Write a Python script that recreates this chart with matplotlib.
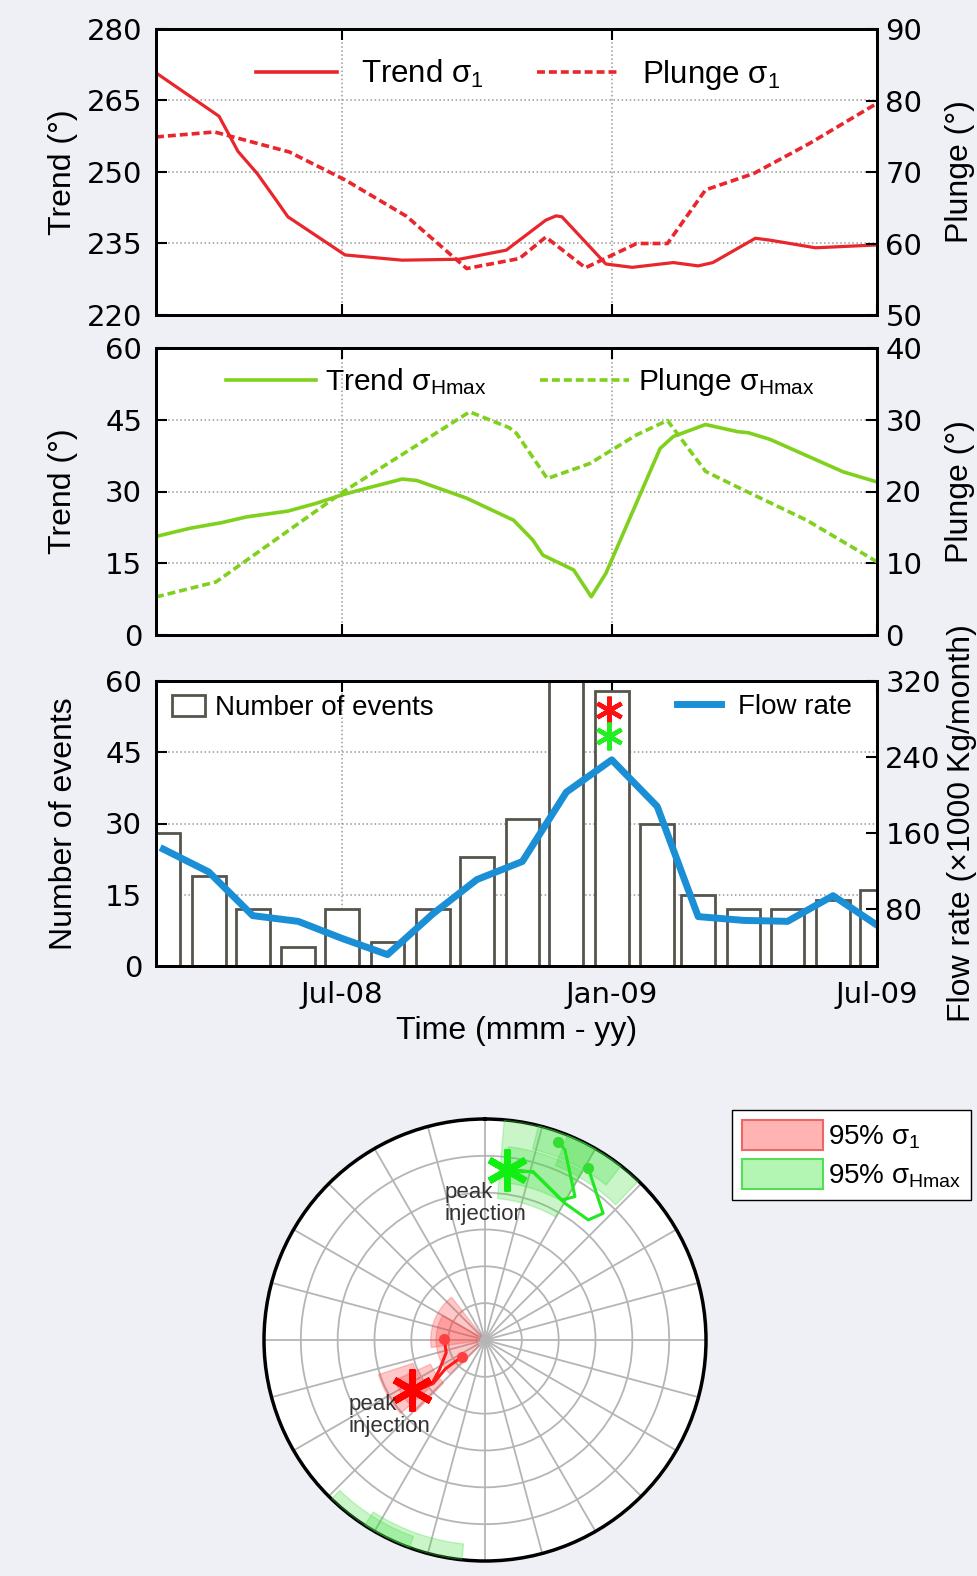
import numpy as np
import pandas as pd
import matplotlib
matplotlib.use('Agg')
import matplotlib.pyplot as plt
import matplotlib.dates as mdates
from matplotlib.lines import Line2D
from matplotlib.patches import Patch

plt.rcParams['font.family'] = ['Liberation Sans', 'DejaVu Sans']
plt.rcParams['mathtext.fontset'] = 'custom'
plt.rcParams['mathtext.rm'] = 'Liberation Sans'
plt.rcParams['mathtext.it'] = 'Liberation Sans:italic'
plt.rcParams['mathtext.default'] = 'regular'

# ---- data ----
s1_trend_dates = ['2008-02-25', '2008-04-08', '2008-04-21', '2008-05-04', '2008-05-17', '2008-05-25',
                  '2008-07-03', '2008-08-11', '2008-09-19', '2008-10-21', '2008-11-17', '2008-11-24',
                  '2008-11-28', '2008-12-28', '2009-01-15', '2009-02-12', '2009-03-01', '2009-03-11',
                  '2009-04-09', '2009-04-19', '2009-05-20', '2009-07-01']
s1_trend = [270.8, 261.7, 254.3, 249.7, 244.1, 240.6, 232.6, 231.5, 231.7, 233.6, 239.9, 240.8,
            240.6, 230.7, 230.0, 231.0, 230.3, 231.0, 236.1, 235.7, 234.1, 234.7]

s1_plunge_dates = ['2008-02-25', '2008-04-05', '2008-05-26', '2008-07-03', '2008-08-14', '2008-09-24',
                   '2008-10-30', '2008-11-17', '2008-12-14', '2009-01-18', '2009-02-08', '2009-03-06',
                   '2009-04-08', '2009-05-16', '2009-07-01']
s1_plunge = [74.9, 75.6, 72.8, 68.9, 63.8, 56.5, 57.9, 60.9, 56.6, 60.0, 60.0, 67.5, 69.8, 74.0, 79.6]

hmax_trend_dates = ['2008-02-25', '2008-03-19', '2008-04-10', '2008-04-27', '2008-05-25', '2008-06-13',
                    '2008-07-01', '2008-07-18', '2008-08-11', '2008-08-21', '2008-09-24', '2008-10-26',
                    '2008-11-08', '2008-11-15', '2008-12-06', '2008-12-18', '2008-12-28', '2009-02-03',
                    '2009-02-12', '2009-03-06', '2009-03-28', '2009-04-04', '2009-04-19', '2009-06-08',
                    '2009-07-01']
hmax_trend = [20.6, 22.3, 23.5, 24.7, 25.9, 27.5, 29.3, 30.7, 32.6, 32.3, 28.6, 24.0, 19.9, 16.7,
              13.6, 8.0, 12.9, 39.0, 41.5, 44.0, 42.5, 42.3, 40.9, 34.1, 32.0]

hmax_plunge_dates = ['2008-02-25', '2008-04-06', '2008-07-02', '2008-08-16', '2008-09-26', '2008-10-23',
                     '2008-10-28', '2008-11-18', '2008-12-17', '2009-01-18', '2009-02-08', '2009-03-06',
                     '2009-04-01', '2009-05-14', '2009-07-01']
hmax_plunge = [5.3, 7.4, 20.0, 25.8, 31.1, 28.9, 28.1, 21.8, 23.9, 27.9, 29.9, 22.8, 20.2, 16.0, 10.2]

months = ['2008-03-01', '2008-04-01', '2008-05-01', '2008-06-01', '2008-07-01', '2008-08-01',
          '2008-09-01', '2008-10-01', '2008-11-01', '2008-12-01', '2009-01-01', '2009-02-01',
          '2009-03-01', '2009-04-01', '2009-05-01', '2009-06-01', '2009-07-01']
n_events = [28, 19, 12, 4, 12, 5, 12, 23, 31, 60, 58, 30, 15, 12, 12, 14, 16]
flow_rate = [143, 119, 73, 67, 49, 32, 75, 111, 130, 203, 237, 188, 72, 68, 67, 94, 63]

peak_date = '2008-12-30'
peak_s1_mark = 54
peak_hmax_mark = 48.5

# stereonet paths (trend, plunge) and 95% regions (trend min/max, plunge min/max)
s1_net_trend = [272, 252, 237, 231, 234, 230, 234, 234]
s1_net_plunge = [75, 75, 70, 65, 57.4, 65, 72, 79.5]
s1_peak = (235.7, 57.3)
hmax_net_trend = [20.3, 22.8, 32.1, 28.7, 16.0, 7.3, 16.0, 30.3, 40.7, 43.0, 31.0]
hmax_net_plunge = [4.9, 7.4, 24.4, 28.6, 21.9, 23.5, 22.0, 29.1, 29.1, 22.7, 10.2]
hmax_peak = (7.3, 23.5)
s1_regions = [(262, 322, 70, 88), (226, 300, 72, 87), (229, 252, 48, 62), (224, 246, 53, 68)]
hmax_regions = [(5, 30, 0, 36), (7, 30, 13, 29), (22, 44, 0, 16), (14, 38, 0, 12),
                (186, 213, 0, 8), (200, 224, 0, 6)]

RED = '#e8262c'
GREEN = '#80d01e'
BLUE = '#1a8fd6'
BAR_EDGE = '#55554d'

W, H = 977, 1576


def px2fig(x0, y0, x1, y1):
    return [x0 / W, 1 - y1 / H, (x1 - x0) / W, (y1 - y0) / H]


xmin, xmax = pd.Timestamp('2008-02-25'), pd.Timestamp('2009-07-01')
xticks = pd.to_datetime(['2008-07-01', '2009-01-01', '2009-07-01'])


def style(ax, axr, lim_l, ticks_l, lim_r, ticks_r, show_x=False):
    ax.set_xlim(xmin, xmax)
    ax.set_xticks(xticks)
    ax.xaxis.set_major_formatter(mdates.DateFormatter('%b-%y'))
    ax.set_ylim(lim_l)
    ax.set_yticks(ticks_l)
    axr.set_ylim(lim_r)
    axr.set_yticks(ticks_r)
    ax.tick_params(direction='in', length=8, width=1.5, labelsize=21, top=True,
                   labelfontfamily='DejaVu Sans', pad=10, labelbottom=show_x)
    ax.tick_params(axis='x', pad=11)
    axr.tick_params(direction='in', length=8, width=1.5, labelsize=21,
                    labelfontfamily='DejaVu Sans', pad=6)
    for sp in list(ax.spines.values()) + list(axr.spines.values()):
        sp.set_linewidth(2)
    ax.grid(True, color='#999999', linestyle=':', linewidth=1.1)
    ax.set_axisbelow(True)
    ax.set_facecolor('white')


fig = plt.figure(figsize=(W / 100, H / 100), dpi=100, facecolor='#eef0f5')

# ---- panel 1: sigma 1 ----
ax1 = fig.add_axes(px2fig(156, 29, 877, 315))
ax1r = ax1.twinx()
ax1.plot(pd.to_datetime(s1_trend_dates), s1_trend, color=RED, lw=2.3)
ax1r.plot(pd.to_datetime(s1_plunge_dates), s1_plunge, color=RED, lw=2.6, ls=(0, (2.2, 1.1)))
style(ax1, ax1r, (220, 280), [220, 235, 250, 265, 280], (50, 90), [50, 60, 70, 80, 90])
ax1.set_ylabel('Trend (°)', fontsize=23)
ax1r.set_ylabel('Plunge (°)', fontsize=23)
ax1.yaxis.set_label_coords(-0.108, 0.5)
ax1r.yaxis.set_label_coords(1.094, 0.5)
h1 = [Line2D([], [], color=RED, lw=2.6), Line2D([], [], color=RED, lw=2.6, ls=(0, (2.2, 1.1)))]
ax1r.legend(h1, ['Trend σ$_1$', 'Plunge σ$_1$'], loc='center left', bbox_to_anchor=(0.1, 0.84),
            ncol=2, frameon=False, fontsize=22.5, handlelength=2.6, handletextpad=0.75,
            columnspacing=1.7)

# ---- panel 2: sigma Hmax ----
ax2 = fig.add_axes(px2fig(156, 348, 877, 635))
ax2r = ax2.twinx()
ax2.plot(pd.to_datetime(hmax_trend_dates), hmax_trend, color=GREEN, lw=2.6)
ax2r.plot(pd.to_datetime(hmax_plunge_dates), hmax_plunge, color=GREEN, lw=2.6, ls=(0, (2.2, 1.1)))
style(ax2, ax2r, (0, 60), [0, 15, 30, 45, 60], (0, 40), [0, 10, 20, 30, 40])
ax2.set_ylabel('Trend (°)', fontsize=23)
ax2r.set_ylabel('Plunge (°)', fontsize=23)
ax2.yaxis.set_label_coords(-0.108, 0.5)
ax2r.yaxis.set_label_coords(1.094, 0.5)
h2 = [Line2D([], [], color=GREEN, lw=2.6), Line2D([], [], color=GREEN, lw=2.6, ls=(0, (2.2, 1.1)))]
ax2r.legend(h2, ['Trend σ$_{Hmax}$', 'Plunge σ$_{Hmax}$'], loc='center left',
            bbox_to_anchor=(0.06, 0.88), ncol=2, frameon=False, fontsize=21.5, handlelength=3.0,
            handletextpad=0.3, columnspacing=1.8)

# ---- panel 3: events and flow rate ----
ax3 = fig.add_axes(px2fig(156, 681, 877, 966))
ax3r = ax3.twinx()
ax3.bar(pd.to_datetime(months), n_events, width=23, facecolor='white', edgecolor=BAR_EDGE,
        linewidth=2, zorder=2)
ax3.plot(pd.to_datetime([peak_date]), [peak_s1_mark], ls='none', marker=(6, 2, 0), ms=20,
         mew=3.2, color='#ff1010', zorder=4)
ax3.plot(pd.to_datetime([peak_date]), [peak_hmax_mark], ls='none', marker=(6, 2, 0), ms=20,
         mew=3.2, color='#22ee22', zorder=4)
ax3r.plot(pd.to_datetime(months), flow_rate, color=BLUE, lw=5)
style(ax3, ax3r, (0, 60), [0, 15, 30, 45, 60], (20, 320), [80, 160, 240, 320], show_x=True)
ax3.set_ylabel('Number of events', fontsize=23)
ax3r.set_ylabel('Flow rate (×1000 Kg/month)', fontsize=23)
ax3.yaxis.set_label_coords(-0.107, 0.5)
ax3r.yaxis.set_label_coords(1.097, 0.5)
ax3.set_xlabel('Time (mmm - yy)', fontsize=23)
ax3.xaxis.set_label_coords(0.5, -0.175)
leg_a = ax3r.legend([Patch(facecolor='white', edgecolor=BAR_EDGE, linewidth=2)],
                    ['Number of events'], loc='center left', bbox_to_anchor=(-0.013, 0.905),
                    frameon=False, fontsize=20, handlelength=1.2, handleheight=0.8,
                    handletextpad=0.35)
ax3r.add_artist(leg_a)
ax3r.legend([Line2D([], [], color=BLUE, lw=5)], ['Flow rate'], loc='center right',
            bbox_to_anchor=(1.0, 0.91), frameon=False, fontsize=20, handlelength=1.6,
            handletextpad=0.6)

# ---- stereonet (equal-area, lower hemisphere) ----
def proj(plunge):
    return np.sqrt(2) * np.sin(np.radians(90 - np.asarray(plunge, dtype=float)) / 2)


axp = fig.add_axes(px2fig(485 - 221, 1340 - 221, 485 + 221, 1340 + 221), projection='polar')
axp.set_theta_zero_location('N')
axp.set_theta_direction(-1)
axp.set_ylim(0, 1)
axp.set_rticks(np.arange(1, 6) / 6)
axp.set_yticklabels([])
axp.set_thetagrids(np.arange(0, 360, 15), labels=[])
axp.grid(color='#b5b5b5', linewidth=1.3)
axp.spines['polar'].set_linewidth(2.5)
axp.set_facecolor('white')


def sector(ax, t0, t1, p0, p1, color):
    th = np.radians(np.linspace(t0, t1, 40))
    theta = np.concatenate([th, th[::-1]])
    r = np.concatenate([np.full(th.size, proj(p0)), np.full(th.size, proj(p1))])
    ax.fill(theta, r, facecolor=color, alpha=0.28, edgecolor=color, linewidth=1, zorder=3)


for t0, t1, p0, p1 in s1_regions:
    sector(axp, t0, t1, p0, p1, '#ff3b3b')
for t0, t1, p0, p1 in hmax_regions:
    sector(axp, t0, t1, p0, p1, '#3ddc3d')

axp.plot(np.radians(s1_net_trend), proj(s1_net_plunge), color='#ff1a1a', lw=2.2, zorder=4)
axp.plot(np.radians([s1_net_trend[0], s1_net_trend[-1]]), proj([s1_net_plunge[0], s1_net_plunge[-1]]),
         ls='none', marker='o', ms=7, color='#ff4040', zorder=5)
axp.plot(np.radians([s1_peak[0]]), proj([s1_peak[1]]), ls='none', marker=(6, 2, 0), ms=30,
         mew=5, color='#ff0000', zorder=6)
axp.plot(np.radians(hmax_net_trend), proj(hmax_net_plunge), color='#22e822', lw=2.2, zorder=4)
axp.plot(np.radians([hmax_net_trend[0], hmax_net_trend[-1]]),
         proj([hmax_net_plunge[0], hmax_net_plunge[-1]]),
         ls='none', marker='o', ms=7, color='#33dd33', zorder=5)
axp.plot(np.radians([hmax_peak[0]]), proj([hmax_peak[1]]), ls='none', marker=(6, 2, 0), ms=30,
         mew=5, color='#11ee11', zorder=6)

fig.text(445 / W, 1 - 1182 / H, 'peak\ninjection', fontsize=16, color='#333333', va='top',
         ha='left', linespacing=1.05)
fig.text(349 / W, 1 - 1394 / H, 'peak\ninjection', fontsize=16, color='#333333', va='top',
         ha='left', linespacing=1.05)

fig.legend([Patch(facecolor='#ffb3b3', edgecolor='#ee6666', linewidth=1.5),
            Patch(facecolor='#b3f5b3', edgecolor='#55dd55', linewidth=1.5)],
           ['95% σ$_1$', '95% σ$_{Hmax}$'], loc='upper right',
           bbox_to_anchor=(971 / W, 1 - 1110 / H), fontsize=20, handlelength=2.9,
           handleheight=1.3, handletextpad=0.2, labelspacing=0.3, borderpad=0.35,
           borderaxespad=0, fancybox=False, edgecolor='black', framealpha=1)

fig.savefig('out.png', dpi=100, facecolor=fig.get_facecolor())
